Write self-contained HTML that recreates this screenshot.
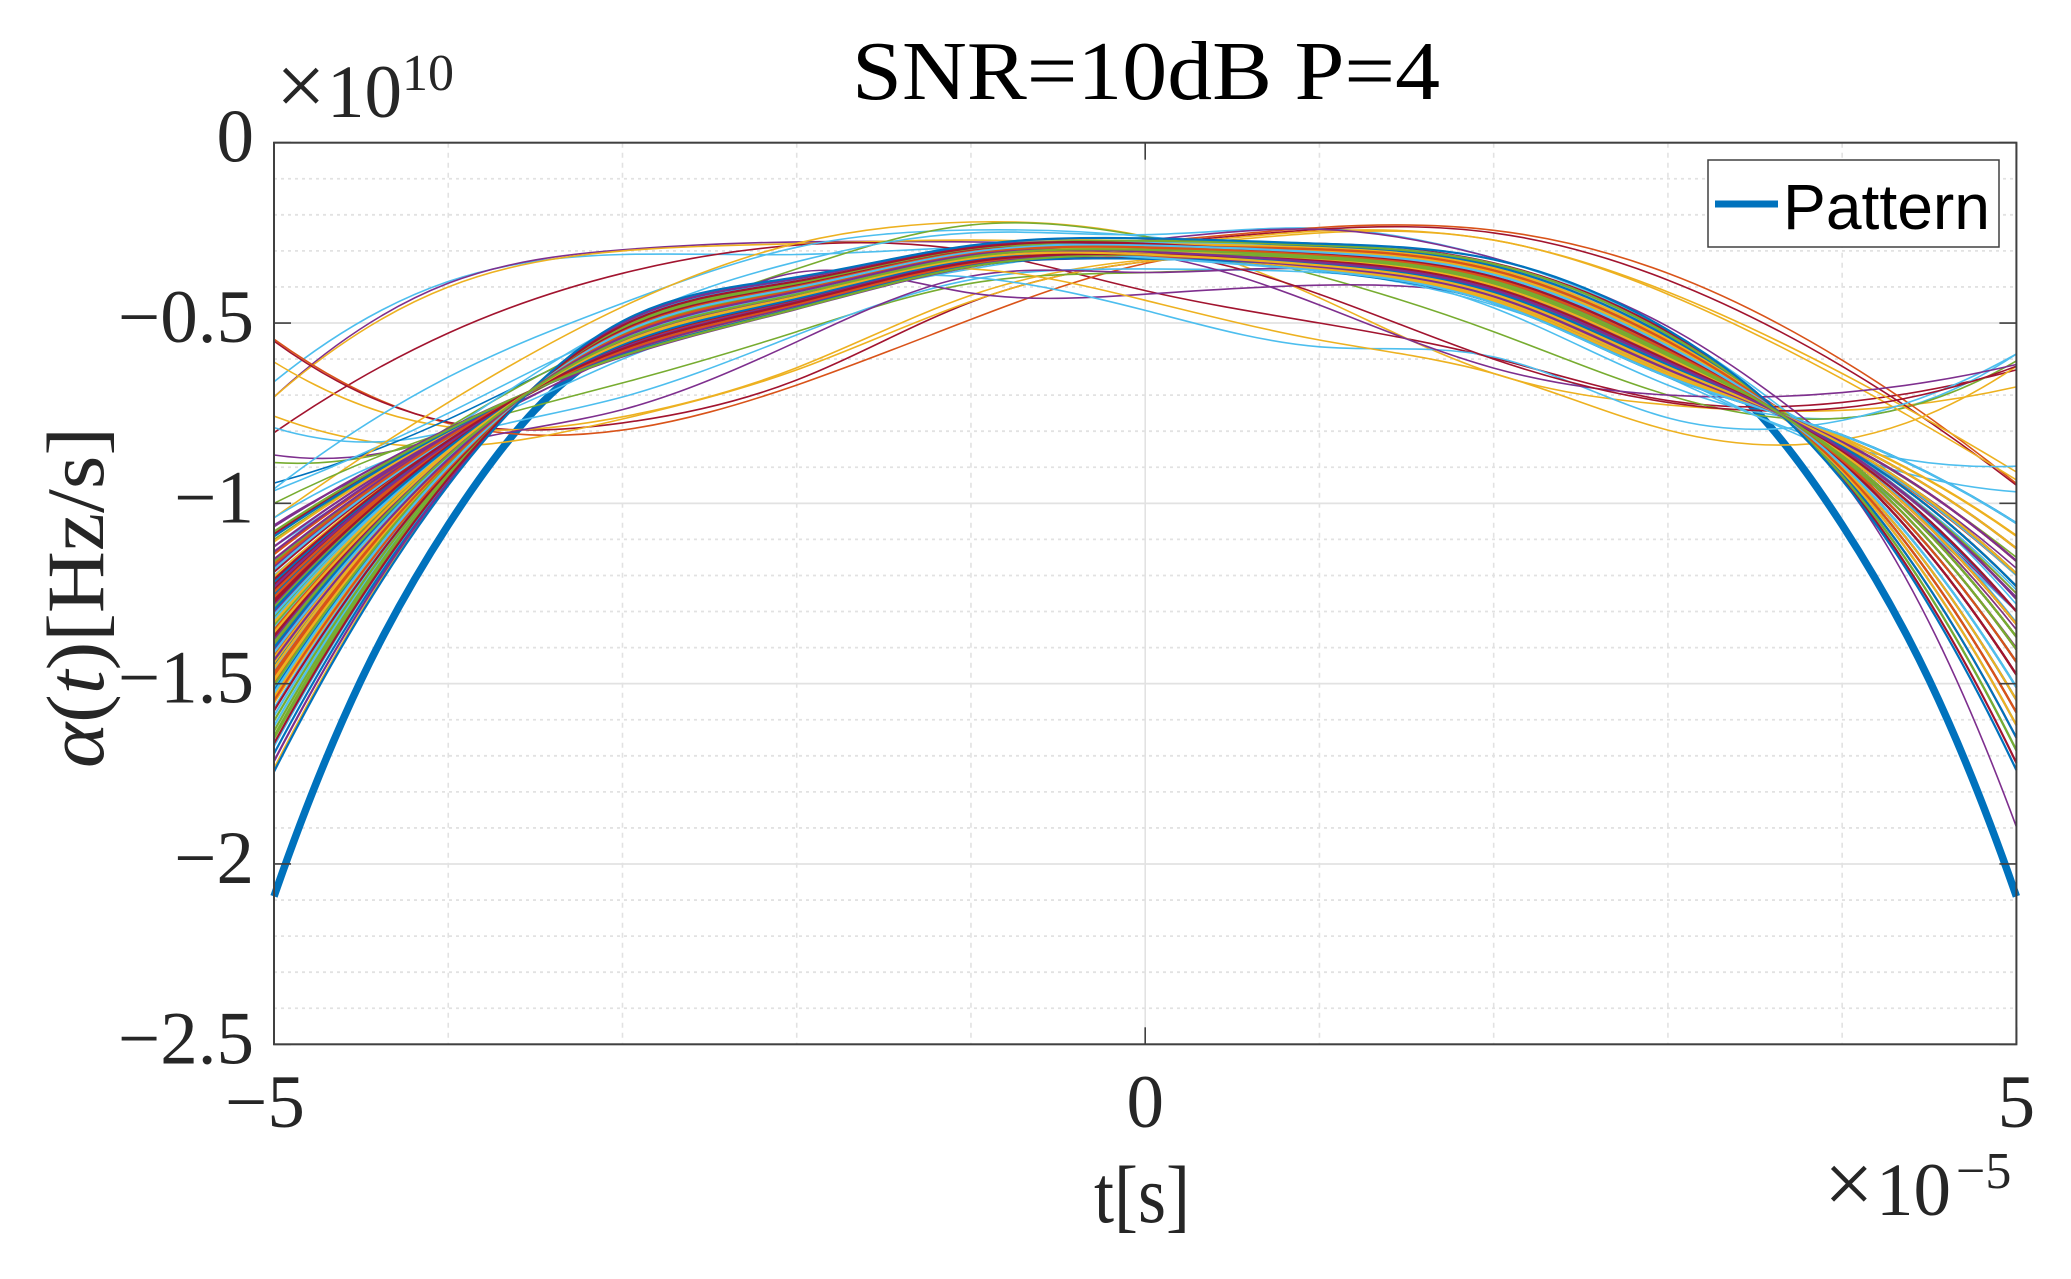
<!DOCTYPE html>
<html>
<head>
<meta charset="utf-8">
<title>SNR=10dB P=4</title>
<style>
html,body{margin:0;padding:0;background:#fff;}
svg{display:block;}
text{font-family:"Liberation Serif",serif;fill:#262626;}
</style>
</head>
<body>
<svg id="chart" xmlns="http://www.w3.org/2000/svg" width="2071" height="1279" viewBox="0 0 2071 1279">
<rect x="0" y="0" width="2071" height="1279" fill="#fff"/>
<g id="grid"></g>
<g id="curves"></g>
<g id="axes"></g>
<text x="852" y="99" font-size="84" textLength="588" lengthAdjust="spacingAndGlyphs" style="fill:#000">SNR=10dB P=4</text>
<text y="117" font-size="75"><tspan x="276" font-size="88" dy="-2">×</tspan><tspan x="327" dy="2">10</tspan><tspan x="402" font-size="52" dy="-27">10</tspan></text>
<text y="1215" font-size="75"><tspan x="1824" font-size="88" dy="-2">×</tspan><tspan x="1876" dy="2">10</tspan><tspan x="1956" font-size="52" dy="-27">−5</tspan></text>
<text x="1094" y="1222" font-size="82" textLength="96" lengthAdjust="spacingAndGlyphs">t[s]</text>
<text transform="translate(103,768) rotate(-90)" font-size="82" textLength="341" lengthAdjust="spacingAndGlyphs"><tspan font-style="italic">α</tspan>(<tspan font-style="italic">t</tspan>)[Hz/s]</text>
<g>
<rect x="1708" y="160" width="291" height="87" fill="#fff" stroke="#404040" stroke-width="1.5"/>
<line x1="1715" y1="204" x2="1778" y2="204" stroke="#0072BD" stroke-width="7"/>
<text x="1783" y="229" font-size="64" textLength="207" lengthAdjust="spacingAndGlyphs" style="font-family:'Liberation Sans',sans-serif;fill:#000">Pattern</text>
</g>
</svg>
<script>
const xTicks = [-5, 0, 5];
const yTicks = [0, -0.5, -1, -1.5, -2, -2.5];
const xTickLabels = ["−5", "0", "5"];
const yTickLabels = ["0", "−0.5", "−1", "−1.5", "−2", "−2.5"];
const xMinorTicks = [-4, -3, -2, -1, 1, 2, 3, 4];
const yMinorTicks = [-0.1, -0.2, -0.3, -0.4, -0.6, -0.7, -0.8, -0.9, -1.1, -1.2, -1.3, -1.4, -1.6, -1.7, -1.8, -1.9, -2.1, -2.2, -2.3, -2.4];

const patternTimes = [-5, -4.5, -4, -3.5, -3, -2, -1, 0, 1, 2, 3, 3.5, 4, 4.5, 5];
const patternValues = [-2.09, -1.49, -1.06, -0.74, -0.55, -0.39, -0.30, -0.28, -0.30, -0.39, -0.55, -0.74, -1.06, -1.49, -2.09];

const curveTimes = [-5, -4, -3, -2, -1, 0, 1, 2, 3, 4, 5];

const outlierColors = [5,3,2,6,1,6,2,2,5,3,4,0,5,5,2,4,5,1,6,2,2,3,4,5,3,3,5,2,3,6,5,5,3];
const outlierCurves = [
[-.663,-.385,-.31,-.31,-.29,-.29,-.31,-.40,-.59,-.84,-1.28],
[-.705,-.39,-.297,-.275,-.275,-.28,-.30,-.38,-.56,-.87,-1.40],
[-.705,-.40,-.30,-.28,-.27,-.28,-.295,-.39,-.58,-.85,-1.30],
[-.804,-.528,-.362,-.284,-.30,-.41,-.50,-.597,-.715,-.72,-.63],
[-.545,-.778,-.797,-.672,-.49,-.335,-.30,-.39,-.60,-.84,-1.20],
[-.55,-.775,-.777,-.658,-.442,-.33,-.31,-.38,-.59,-.85,-1.25],
[-.608,-.788,-.76,-.624,-.423,-.325,-.32,-.40,-.60,-.86,-1.33],
[-.758,-.843,-.766,-.63,-.44,-.33,-.33,-.42,-.61,-.87,-1.35],
[-.79,-.80,-.60,-.45,-.35,-.30,-.33,-.43,-.62,-.84,-1.20],
[-.866,-.81,-.58,-.44,-.34,-.32,-.32,-.40,-.59,-.85,-1.26],
[-.887,-.805,-.57,-.43,-.335,-.31,-.32,-.42,-.61,-.83,-1.15],
[-.944,-.767,-.54,-.40,-.32,-.30,-.31,-.40,-.59,-.86,-1.30],
[-.965,-.75,-.52,-.39,-.31,-.29,-.33,-.42,-.61,-.85,-1.24],
[-.96,-.65,-.445,-.29,-.242,-.26,-.33,-.458,-.672,-.764,-.586],
[-1.04,-.72,-.455,-.279,-.22,-.26,-.43,-.64,-.727,-.742,-.677],
[-1.10,-.79,-.53,-.35,-.228,-.26,-.37,-.524,-.70,-.764,-.605],
[-1.12,-.80,-.50,-.33,-.25,-.255,-.237,-.32,-.52,-.87,-1.30],
[-1.30,-.85,-.56,-.41,-.31,-.275,-.235,-.243,-.362,-.603,-.945],
[-1.25,-.84,-.57,-.42,-.32,-.28,-.24,-.25,-.381,-.62,-.95],
[-1.20,-.83,-.57,-.42,-.32,-.285,-.245,-.27,-.414,-.64,-.913],
[-1.35,-.86,-.55,-.41,-.32,-.29,-.25,-.27,-.42,-.655,-.935],
[-1.30,-.85,-.56,-.42,-.32,-.27,-.24,-.32,-.51,-.85,-1.30],
[-1.00,-.80,-.666,-.524,-.39,-.36,-.35,-.42,-.61,-.85,-1.25],
[-1.04,-.82,-.705,-.533,-.38,-.35,-.36,-.43,-.62,-.86,-1.33],
[-1.06,-.84,-.74,-.552,-.37,-.36,-.35,-.44,-.63,-.84,-1.18],
[-1.30,-.83,-.58,-.36,-.417,-.42,-.395,-.43,-.60,-.87,-1.35],
[-1.20,-.83,-.56,-.40,-.373,-.465,-.566,-.594,-.763,-.77,-.586],
[-1.25,-.84,-.56,-.40,-.35,-.437,-.547,-.64,-.797,-.824,-.62],
[-1.40,-.87,-.55,-.41,-.32,-.31,-.45,-.625,-.70,-.693,-.615],
[-1.35,-.86,-.55,-.42,-.32,-.30,-.42,-.60,-.72,-.735,-.62],
[-1.32,-.85,-.56,-.42,-.32,-.30,-.34,-.44,-.65,-.84,-.897],
[-1.40,-.87,-.55,-.41,-.31,-.30,-.35,-.45,-.64,-.86,-.968],
[-1.45,-.88,-.54,-.41,-.31,-.30,-.32,-.36,-.55,-.935,-1.897]
];

const bundleCurves = [
[-1.295,-.846,-.56,-.432,-.324,-.298,-.312,-.378,-.577,-.88,-1.44],
[-1.484,-.889,-.533,-.407,-.308,-.302,-.342,-.414,-.616,-.843,-1.23],
[-1.176,-.819,-.577,-.447,-.334,-.297,-.30,-.36,-.558,-.899,-1.545],
[-1.393,-.868,-.546,-.419,-.316,-.31,-.347,-.432,-.635,-.824,-1.125],
[-1.617,-.92,-.514,-.39,-.296,-.285,-.32,-.39,-.59,-.868,-1.37],
[-1.239,-.833,-.568,-.439,-.329,-.29,-.292,-.348,-.545,-.911,-1.615],
[-1.435,-.878,-.54,-.413,-.312,-.30,-.332,-.408,-.609,-.849,-1.265],
[-1.33,-.854,-.555,-.427,-.321,-.294,-.308,-.372,-.57,-.886,-1.475],
[-1.554,-.905,-.523,-.398,-.302,-.30,-.34,-.42,-.622,-.836,-1.195],
[-1.12,-.806,-.585,-.454,-.339,-.312,-.324,-.396,-.596,-.861,-1.335],
[-1.358,-.86,-.551,-.423,-.319,-.282,-.284,-.336,-.531,-.924,-1.685],
[-1.512,-.896,-.529,-.404,-.305,-.296,-.328,-.402,-.603,-.855,-1.30],
[-1.267,-.84,-.564,-.435,-.326,-.295,-.304,-.366,-.564,-.893,-1.51],
[-1.694,-.937,-.503,-.38,-.29,-.30,-.355,-.444,-.649,-.811,-1.055],
[-1.414,-.873,-.543,-.416,-.314,-.295,-.316,-.384,-.584,-.874,-1.405],
[-1.204,-.825,-.573,-.443,-.332,-.294,-.296,-.354,-.551,-.905,-1.58],
[-1.456,-.883,-.537,-.411,-.31,-.307,-.344,-.426,-.629,-.83,-1.16],
[-1.316,-.851,-.557,-.429,-.322,-.30,-.32,-.39,-.59,-.868,-1.37],
[-1.589,-.913,-.518,-.394,-.299,-.277,-.30,-.36,-.558,-.899,-1.545],
[-1.085,-.798,-.59,-.459,-.342,-.32,-.336,-.414,-.616,-.843,-1.23],
[-1.379,-.865,-.548,-.421,-.317,-.294,-.312,-.378,-.577,-.88,-1.44],
[-1.141,-.811,-.582,-.451,-.337,-.29,-.288,-.342,-.538,-.918,-1.65],
[-1.533,-.90,-.526,-.401,-.304,-.306,-.35,-.438,-.642,-.818,-1.09],
[-1.281,-.843,-.562,-.433,-.325,-.305,-.324,-.396,-.596,-.861,-1.335],
[-1.652,-.928,-.509,-.386,-.293,-.281,-.308,-.372,-.57,-.886,-1.475],
[-1.344,-.857,-.553,-.425,-.32,-.306,-.332,-.408,-.609,-.849,-1.265],
[-1.225,-.83,-.57,-.441,-.33,-.285,-.28,-.334,-.525,-.93,-1.72],
[-1.47,-.886,-.535,-.409,-.309,-.292,-.316,-.384,-.584,-.874,-1.405],
[-1.421,-.875,-.542,-.415,-.313,-.305,-.34,-.42,-.622,-.836,-1.195],
[-1.736,-.947,-.497,-.375,-.286,-.275,-.304,-.366,-.564,-.893,-1.51],
[-1.302,-.848,-.559,-.431,-.323,-.315,-.347,-.432,-.635,-.824,-1.125],
[-1.162,-.816,-.579,-.449,-.335,-.308,-.32,-.39,-.59,-.868,-1.37],
[-1.568,-.908,-.521,-.396,-.301,-.276,-.292,-.348,-.545,-.911,-1.615],
[-1.372,-.864,-.549,-.422,-.317,-.303,-.328,-.402,-.603,-.855,-1.30],
[-1.253,-.836,-.566,-.437,-.328,-.294,-.30,-.36,-.558,-.899,-1.545],
[-1.498,-.892,-.531,-.405,-.306,-.305,-.344,-.426,-.629,-.83,-1.16],
[-1.106,-.803,-.587,-.456,-.34,-.31,-.316,-.384,-.584,-.874,-1.405],
[-1.407,-.872,-.544,-.417,-.314,-.305,-.336,-.414,-.616,-.843,-1.23],
[-1.631,-.923,-.512,-.388,-.295,-.28,-.308,-.372,-.57,-.886,-1.475],
[-1.323,-.852,-.556,-.428,-.322,-.283,-.284,-.336,-.531,-.924,-1.685],
[-1.19,-.822,-.575,-.445,-.333,-.31,-.324,-.396,-.596,-.861,-1.335],
[-1.449,-.881,-.538,-.412,-.311,-.31,-.355,-.444,-.649,-.811,-1.055],
[-1.351,-.859,-.552,-.424,-.319,-.296,-.312,-.378,-.577,-.88,-1.44],
[-1.54,-.902,-.525,-.40,-.303,-.298,-.332,-.408,-.609,-.849,-1.265],
[-1.064,-.793,-.593,-.461,-.344,-.30,-.296,-.354,-.551,-.905,-1.58],
[-1.288,-.844,-.561,-.433,-.324,-.31,-.34,-.42,-.622,-.836,-1.195],
[-1.673,-.932,-.506,-.383,-.291,-.277,-.304,-.366,-.564,-.893,-1.51],
[-1.386,-.867,-.547,-.42,-.316,-.298,-.32,-.39,-.59,-.868,-1.37],
[-1.218,-.828,-.571,-.442,-.331,-.29,-.288,-.342,-.538,-.918,-1.65],
[-1.477,-.888,-.534,-.408,-.308,-.298,-.328,-.402,-.603,-.855,-1.30],
[-1.442,-.88,-.539,-.412,-.311,-.31,-.35,-.438,-.642,-.818,-1.09],
[-1.134,-.809,-.583,-.452,-.338,-.303,-.308,-.372,-.57,-.886,-1.475],
[-1.603,-.916,-.516,-.392,-.297,-.296,-.336,-.414,-.616,-.843,-1.23],
[-1.309,-.849,-.558,-.43,-.323,-.29,-.296,-.354,-.551,-.905,-1.58],
[-1.365,-.862,-.55,-.423,-.318,-.302,-.324,-.396,-.596,-.861,-1.335],
[-1.519,-.897,-.528,-.403,-.305,-.29,-.316,-.384,-.584,-.874,-1.405],
[-1.246,-.835,-.567,-.438,-.328,-.316,-.344,-.426,-.629,-.83,-1.16],
[-1.428,-.876,-.541,-.414,-.313,-.282,-.292,-.348,-.545,-.911,-1.615],
[-1.715,-.942,-.50,-.377,-.288,-.285,-.32,-.39,-.59,-.868,-1.37],
[-1.337,-.856,-.554,-.426,-.32,-.306,-.332,-.408,-.609,-.849,-1.265],
[-1.183,-.82,-.576,-.446,-.334,-.298,-.304,-.366,-.564,-.893,-1.51],
[-1.575,-.91,-.52,-.396,-.30,-.30,-.34,-.42,-.622,-.836,-1.195],
[-1.40,-.87,-.545,-.418,-.315,-.293,-.312,-.378,-.577,-.88,-1.44],
[-1.26,-.838,-.565,-.436,-.327,-.29,-.296,-.354,-.551,-.905,-1.58],
[-1.491,-.891,-.532,-.406,-.307,-.305,-.347,-.432,-.635,-.824,-1.125],
[-1.155,-.814,-.58,-.45,-.336,-.31,-.324,-.396,-.596,-.861,-1.335],
[-1.645,-.926,-.51,-.387,-.294,-.272,-.284,-.336,-.531,-.924,-1.685],
[-1.463,-.884,-.536,-.41,-.31,-.298,-.328,-.402,-.603,-.855,-1.30],
[-1.274,-.841,-.563,-.434,-.326,-.296,-.308,-.372,-.57,-.886,-1.475],
[-1.092,-.80,-.589,-.458,-.342,-.322,-.34,-.42,-.622,-.836,-1.195],
[-1.547,-.904,-.524,-.399,-.302,-.29,-.316,-.384,-.584,-.874,-1.405],
[-1.358,-.86,-.551,-.423,-.319,-.29,-.30,-.36,-.558,-.899,-1.545],
[-1.232,-.832,-.569,-.44,-.329,-.31,-.332,-.408,-.609,-.849,-1.265],
[-1.505,-.894,-.53,-.404,-.306,-.294,-.32,-.39,-.59,-.868,-1.37],
[-1.414,-.873,-.543,-.416,-.314,-.318,-.355,-.444,-.649,-.811,-1.055],
[-1.666,-.931,-.507,-.384,-.292,-.28,-.308,-.372,-.57,-.886,-1.475],
[-1.295,-.846,-.56,-.432,-.324,-.31,-.336,-.414,-.616,-.843,-1.23],
[-1.169,-.817,-.578,-.448,-.335,-.296,-.296,-.354,-.551,-.905,-1.58],
[-1.456,-.883,-.537,-.411,-.31,-.297,-.324,-.396,-.596,-.861,-1.335],
[-1.379,-.865,-.548,-.421,-.317,-.31,-.344,-.426,-.629,-.83,-1.16],
[-1.078,-.796,-.591,-.46,-.343,-.31,-.32,-.39,-.59,-.868,-1.37],
[-1.526,-.899,-.527,-.402,-.304,-.285,-.304,-.366,-.564,-.893,-1.51],
[-1.211,-.826,-.572,-.443,-.331,-.31,-.328,-.402,-.603,-.855,-1.30],
[-1.744,-.95,-.495,-.373,-.285,-.265,-.28,-.324,-.519,-.936,-1.74],
[-1.47,-.886,-.535,-.409,-.309,-.29,-.312,-.378,-.577,-.88,-1.44],
[-1.33,-.854,-.555,-.427,-.321,-.31,-.34,-.42,-.622,-.836,-1.195],
[-1.435,-.878,-.54,-.413,-.312,-.302,-.332,-.408,-.609,-.849,-1.265],
[-1.386,-.867,-.547,-.42,-.316,-.297,-.316,-.384,-.584,-.874,-1.405]
];

const plotLeft = 274, plotRight = 2016.4, plotTop = 142.7, plotBottom = 1044.3;
const xDomain = [-5, 5], yDomain = [-2.5, 0];
const palette = ["#0072BD", "#D95319", "#EDB120", "#7E2F8E", "#77AC30", "#4DBEEE", "#A2142F"];
const NS = "http://www.w3.org/2000/svg";

function sx(t) { return plotLeft + (t - xDomain[0]) / (xDomain[1] - xDomain[0]) * (plotRight - plotLeft); }
function sy(v) { return plotBottom - (v - yDomain[0]) / (yDomain[1] - yDomain[0]) * (plotBottom - plotTop); }

function make(tag, attrs, parent) {
  const el = document.createElementNS(NS, tag);
  for (const k in attrs) el.setAttribute(k, attrs[k]);
  parent.appendChild(el);
  return el;
}

function splineSlopes(xs, ys) {
  const n = xs.length, h = [], d = [];
  for (let i = 0; i < n - 1; i++) { h[i] = xs[i + 1] - xs[i]; d[i] = (ys[i + 1] - ys[i]) / h[i]; }
  const sub = new Array(n).fill(0), diag = new Array(n).fill(0), sup = new Array(n).fill(0), rhs = new Array(n).fill(0);
  diag[0] = 1; sup[0] = 1; rhs[0] = 2 * d[0];
  sub[n - 1] = 1; diag[n - 1] = 1; rhs[n - 1] = 2 * d[n - 2];
  for (let i = 1; i < n - 1; i++) {
    sub[i] = h[i];
    diag[i] = 2 * (h[i - 1] + h[i]);
    sup[i] = h[i - 1];
    rhs[i] = 3 * (h[i] * d[i - 1] + h[i - 1] * d[i]);
  }
  for (let i = 1; i < n; i++) {
    const w = sub[i] / diag[i - 1];
    diag[i] -= w * sup[i - 1];
    rhs[i] -= w * rhs[i - 1];
  }
  const m = new Array(n);
  m[n - 1] = rhs[n - 1] / diag[n - 1];
  for (let i = n - 2; i >= 0; i--) m[i] = (rhs[i] - sup[i] * m[i + 1]) / diag[i];
  return m;
}

function smoothPath(ts, vs) {
  const xs = ts.map(sx), ys = vs.map(sy), n = xs.length;
  const m = splineSlopes(xs, ys);
  let d = "M" + xs[0].toFixed(1) + " " + ys[0].toFixed(1);
  for (let i = 0; i < n - 1; i++) {
    const h = (xs[i + 1] - xs[i]) / 3;
    d += "C" + (xs[i] + h).toFixed(1) + " " + (ys[i] + m[i] * h).toFixed(1) + " " +
         (xs[i + 1] - h).toFixed(1) + " " + (ys[i + 1] - m[i + 1] * h).toFixed(1) + " " +
         xs[i + 1].toFixed(1) + " " + ys[i + 1].toFixed(1);
  }
  return d;
}

const gridG = document.getElementById("grid");
const curvesG = document.getElementById("curves");
const axesG = document.getElementById("axes");

xMinorTicks.forEach(function (t) {
  const el = make("line", { x1: sx(t), x2: sx(t), y1: plotTop, y2: plotBottom, stroke: "#e2e2e2", "stroke-width": 1.6, "stroke-dasharray": "5 5" }, gridG);
  
  
});
yMinorTicks.forEach(function (v) {
  const el = make("line", { x1: plotLeft, x2: plotRight, y1: sy(v), y2: sy(v), stroke: "#e2e2e2", "stroke-width": 1.8, "stroke-dasharray": "3 4" }, gridG);
  
  
});
xTicks.forEach(function (t) {
  const el = make("line", { x1: sx(t), x2: sx(t), y1: plotTop, y2: plotBottom, stroke: "#e2e2e2", "stroke-width": 1.6 }, gridG);
  
  
});
yTicks.forEach(function (v) {
  const el = make("line", { x1: plotLeft, x2: plotRight, y1: sy(v), y2: sy(v), stroke: "#e2e2e2", "stroke-width": 1.8 }, gridG);
  
  
});

const patternEl = make("path", { d: smoothPath(patternTimes, patternValues), fill: "none", stroke: palette[0], "stroke-width": 7.5 }, curvesG);



outlierCurves.forEach(function (vals, i) {
  const el = make("path", { d: smoothPath(curveTimes, vals), fill: "none", stroke: palette[outlierColors[i]], "stroke-width": 1.6 }, curvesG);
  
  
});
bundleCurves.forEach(function (vals, i) {
  const el = make("path", { d: smoothPath(curveTimes, vals), fill: "none", stroke: palette[(i + 1) % 7], "stroke-width": 2.2 }, curvesG);
  
  
});

const box = make("rect", { x: plotLeft, y: plotTop, width: plotRight - plotLeft, height: plotBottom - plotTop, fill: "none", stroke: "#404040", "stroke-width": 2 }, axesG);



xTicks.forEach(function (t, i) {
  const x = sx(t);
  [[plotBottom, plotBottom - 17], [plotTop, plotTop + 17]].forEach(function (p) {
    const tk = make("line", { x1: x, x2: x, y1: p[0], y2: p[1], stroke: "#404040", "stroke-width": 1.6 }, axesG);
    
    
  });
  const lb = make("text", { x: t < 0 ? x - 9 : x, y: 1127, "font-size": 75, "text-anchor": "middle" }, axesG);
  lb.textContent = xTickLabels[i];
  
  
});
yTicks.forEach(function (v, i) {
  const y = sy(v);
  [[plotLeft, plotLeft + 17], [plotRight, plotRight - 17]].forEach(function (p) {
    const tk = make("line", { x1: p[0], x2: p[1], y1: y, y2: y, stroke: "#404040", "stroke-width": 1.6 }, axesG);
    
    
  });
  const lb = make("text", { x: 254, y: y + 19, "font-size": 75, "text-anchor": "end" }, axesG);
  lb.textContent = yTickLabels[i];
  
  
});
</script>
</body>
</html>
